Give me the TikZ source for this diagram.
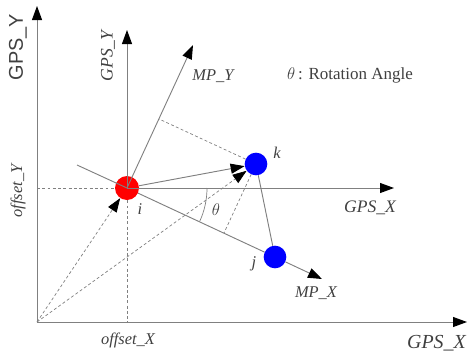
\documentclass[tikz,border=0pt]{standalone}
\usepackage{fontspec}
\setmainfont{Liberation Serif}
\newfontfamily\bigsans{Liberation Sans}
\usetikzlibrary{positioning,arrows.meta}

\begin{document}
\begin{tikzpicture}[x=0.03cm,y=-0.03cm,>={Triangle[length=4.2mm,width=3mm,black]},
  axis/.style={draw=black!50,line width=0.8pt},
  guide/.style={draw=black!50,line width=0.6pt,dash pattern=on 2.5pt off 2pt},
  lab/.style={text=black!75,font=\itshape},
  dot/.style={circle,inner sep=0pt,minimum size=6.8mm}]
\useasboundingbox (0,0) rectangle (470,358);
% points
\coordinate (O) at (37,322);
\node[dot,fill=red,minimum size=7.2mm] (i) at (127,188) {};
\node[dot,fill=blue] (k) at (256,164) {};
\node[dot,fill=blue] (j) at (275,257) {};
\coordinate (pY) at (159,119);
\coordinate (pX) at (224,233);
\coordinate (bk) at (77,165);
% global axes
\draw[axis,->] (O) -- (37,6);
\draw[axis,->] (O) -- (467,322);
% offsets
\draw[guide] (37,188) -- (i);
\draw[guide] (i) -- (127,322);
% local GPS axes and MP axes
\draw[axis,->] (i.center) -- (127,30);
\draw[axis,->] (i.center) -- (394,188);
\draw[axis,->] (i.center) -- (193,45);
\draw[axis] (bk) -- (i.center);
\draw[axis] (i) -- (j);
\draw[axis,->] (j) -- (322,279);
\draw[axis] (k) -- (j);
\draw[axis,->] (i) -- (k);
% projections
\draw[guide] (k) -- (pY);
\draw[guide] (k) -- (pX);
\draw[guide,->] (O) -- (i);
\draw[guide,->] (O) -- (k);
\draw[axis,line width=0.6pt] (207,188) arc[start angle=0,end angle=24.8,radius=80];
% labels
\node[text=black!75,font=\bigsans\fontsize{17}{17}\selectfont,rotate=90] (gY) at (18,47) {GPS\_Y};
\node[lab,font=\itshape\fontsize{17}{17}\selectfont,anchor=west] (gX) at (403,343) {GPS\_X};
\node[lab,font=\itshape\fontsize{15}{15}\selectfont,rotate=90] (lY) at (108,56) {GPS\_Y};
\node[lab,font=\itshape\fontsize{15}{15}\selectfont] (lX) at (370,208) {GPS\_X};
\node[lab,font=\itshape\fontsize{14}{14}\selectfont] (mY) at (213,76) {MP\_Y};
\node[lab,font=\itshape\fontsize{14}{14}\selectfont] (mX) at (316,293) {MP\_X};
\node[lab,font=\itshape\fontsize{14}{14}\selectfont] (oX) at (128,340) {offset\_X};
\node[lab,font=\itshape\fontsize{14}{14}\selectfont,rotate=90] (oY) at (18,191) {offset\_Y};
\node[lab,font=\fontsize{14.5}{14.5}\selectfont] (note) at (350,75) {$\theta$\,: Rotation Angle};
\node[lab,font=\itshape\fontsize{14}{14}\selectfont] (lk) at (277,153) {k};
\node[lab,font=\itshape\fontsize{14}{14}\selectfont] (li) at (140,209) {i};
\node[lab,font=\itshape\fontsize{14}{14}\selectfont] (lj) at (254,264) {j};
\node[lab,font=\fontsize{14}{14}\selectfont] (lt) at (216,210) {$\theta$};
\end{tikzpicture}
\end{document}
